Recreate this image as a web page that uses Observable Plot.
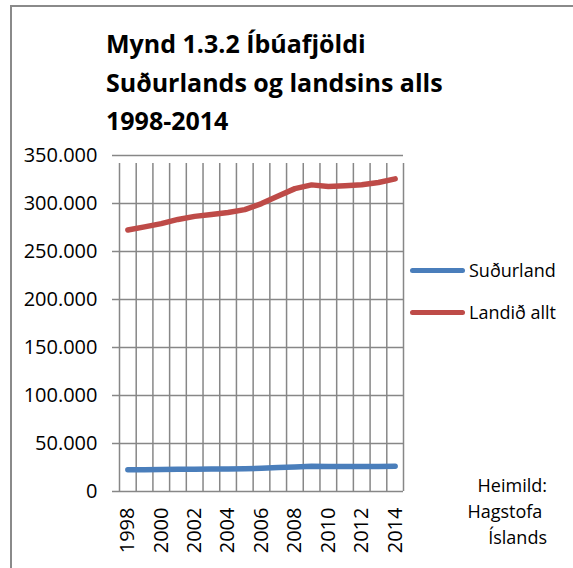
<!DOCTYPE html>
<html>
<head>
<meta charset="utf-8">
<script src="https://cdn.jsdelivr.net/npm/d3@7"></script>
<script src="https://cdn.jsdelivr.net/npm/@observablehq/plot@0.6"></script>
<style>
  html, body { margin: 0; padding: 0; background: #fff; overflow: hidden; }
  #wrap { position: relative; width: 573px; height: 568px; overflow: hidden; font-family: "Open Sans", sans-serif; color: #000; }
  #frame { position: absolute; left: 10px; top: 5px; width: 700px; height: 700px; border: 2px solid #8a8a8a; box-sizing: border-box; }
  #title { position: absolute; left: 106px; top: 24px; font-weight: bold; font-size: 25px; line-height: 38.5px; white-space: nowrap; }
  #chart { position: absolute; left: 0; top: 140px; }
  .leg { position: absolute; left: 410px; font-size: 18px; display: flex; align-items: center; white-space: nowrap; }
  .leg span.sw { display: inline-block; width: 55px; height: 5px; border-radius: 3px; margin-right: 4px; }
  #source { position: absolute; right: 26px; top: 472px; font-size: 18px; line-height: 26px; text-align: right; }
</style>
</head>
<body>
<div id="wrap">
  <div id="frame"></div>
  <div id="title"></div>
  <div id="chart"></div>
  <div id="legend"></div>
  <div id="source"></div>
</div>
<script>
const titleLines = ["Mynd 1.3.2 Íbúafjöldi", "Suðurlands og landsins alls", "1998-2014"];
const years = [1998, 1999, 2000, 2001, 2002, 2003, 2004, 2005, 2006, 2007, 2008, 2009, 2010, 2011, 2012, 2013, 2014];
const sudurland = [22600, 22700, 22900, 23100, 23300, 23400, 23500, 23700, 24200, 24900, 25600, 26200, 26000, 26000, 26000, 26100, 26400];
const landid = [272400, 275700, 279000, 283400, 286600, 288500, 290600, 293600, 299900, 307700, 315500, 319400, 317600, 318500, 319600, 321900, 325700];
const seriesNames = ["Suðurland", "Landið allt"];
const seriesColors = ["#4A7EBB", "#BE4B48"];
const yTicks = [0, 50000, 100000, 150000, 200000, 250000, 300000, 350000];
const xLabelYears = [1998, 2000, 2002, 2004, 2006, 2008, 2010, 2012, 2014];
const sourceLines = ["Heimild:", "Hagstofa ", "Íslands"];

document.getElementById("title").innerHTML = titleLines.join("<br>");
document.getElementById("source").innerHTML = sourceLines.map(s => s.replace(/ $/, "&nbsp;")).join("<br>");

const legend = document.getElementById("legend");
const legendTops = [258, 300];
seriesNames.forEach((n, i) => {
  const d = document.createElement("div");
  d.className = "leg";
  d.style.top = legendTops[i] + "px";
  d.innerHTML = `<span class="sw" style="background:${seriesColors[i]}"></span>${n}`;
  legend.appendChild(d);
});

const data = [];
years.forEach((y, i) => {
  data.push({year: y, value: sudurland[i], series: seriesNames[0]});
  data.push({year: y, value: landid[i], series: seriesNames[1]});
});
const gridX = years.map(y => y - 0.5).concat([years[years.length - 1] + 0.5]);
const xDomain = [gridX[0], gridX[gridX.length - 1]];
const fmt = d => d === 0 ? "0" : d3.format(",")(d).replace(/,/g, ".");

const plot = Plot.plot({
  width: 573,
  height: 428,
  marginLeft: 119,
  marginRight: 170,
  marginTop: 15,
  marginBottom: 77,
  style: { fontFamily: "Open Sans, sans-serif", fontSize: "20px", color: "#000", background: "transparent", overflow: "visible" },
  x: { domain: xDomain, axis: null },
  y: { domain: [0, 350000], axis: null },
  color: { domain: seriesNames, range: seriesColors },
  marks: [
    Plot.ruleY(yTicks, { x1: xDomain[0], x2: xDomain[1], stroke: "#878787", strokeWidth: 1.5, insetLeft: -7 }),
    Plot.ruleX(gridX, { y1: 0, y2: 350000, stroke: "#878787", strokeWidth: 1.5, insetBottom: -8 }),
    Plot.axisY({ ticks: yTicks, tickSize: 0, tickPadding: 22, tickFormat: fmt, fontSize: 20, label: null }),
    Plot.axisX({ ticks: xLabelYears, tickSize: 0, tickPadding: 16, tickRotate: -90, tickFormat: d => String(d), fontSize: 20, label: null }),
    Plot.line(data, { x: "year", y: "value", z: "series", stroke: "series", strokeWidth: 5.5, strokeLinecap: "round", strokeLinejoin: "round" })
  ]
});
document.getElementById("chart").appendChild(plot);
</script>
</body>
</html>
